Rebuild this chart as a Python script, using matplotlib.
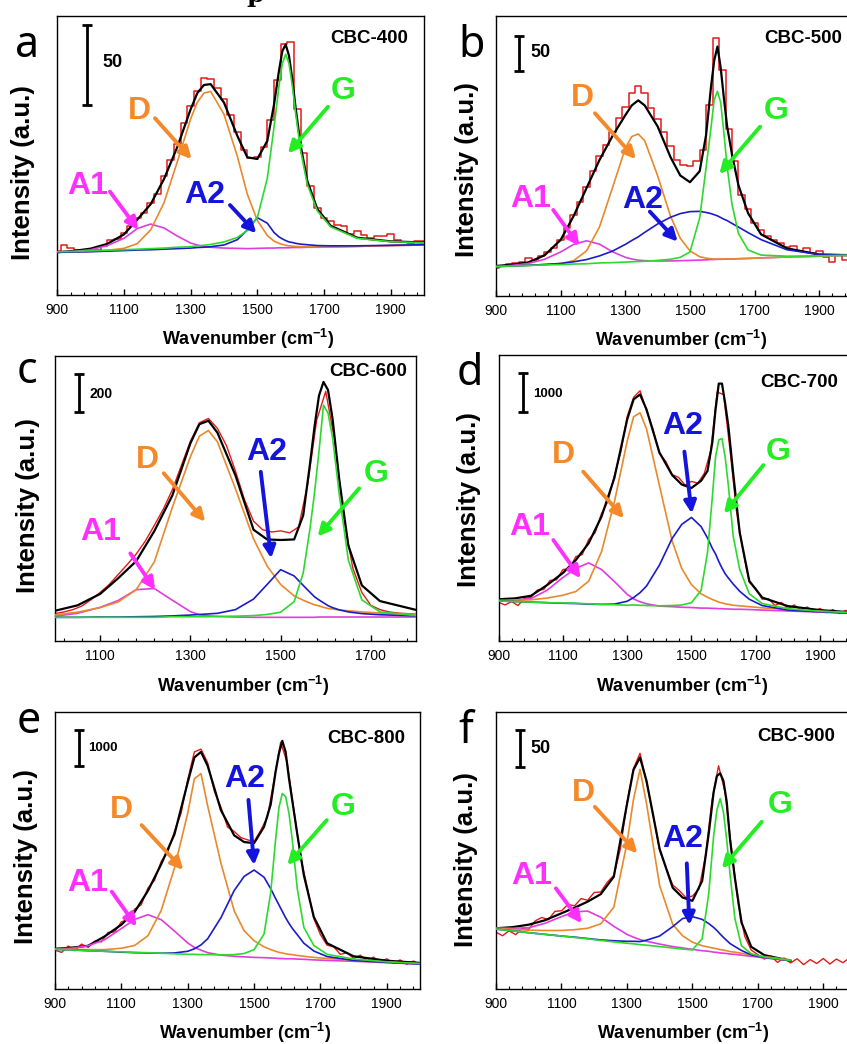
import matplotlib.pyplot as plt
import numpy as np

plt.rcParams['font.family'] = ['Liberation Sans', 'DejaVu Sans']
plt.rcParams['mathtext.fontset'] = 'custom'
plt.rcParams['mathtext.rm'] = 'Liberation Sans'
plt.rcParams['mathtext.bf'] = 'Liberation Sans:bold'

nan = np.nan

# wavenumbers (cm-1) at which the fitted curves were read
wn = [900, 950, 1000, 1050, 1100, 1140, 1180, 1220, 1260, 1300,
      1320, 1340, 1360, 1400, 1440, 1470, 1500, 1530, 1550, 1565,
      1575, 1585, 1595, 1605, 1615, 1630, 1650, 1680, 1720, 1800,
      1900, 2000]
# raw spectra were read every 20 cm-1
raw_wn = list(range(900, 2001, 20))

# intensities in a.u. (0-100 = bottom-top of each panel)
# peaks are heights above the linear baseline

# (a) CBC-400
base_a = [15.3, 15.4, 15.5, 15.7, 15.8, 15.9, 16.0, 16.1, 16.2, 16.2,
          16.3, 16.3, 16.4, 16.5, 16.6, 16.6, 16.7, 16.8, 16.8, 16.9,
          16.9, 16.9, 16.9, 17.0, 17.0, 17.0, 17.1, 17.1, 17.2, 17.4,
          17.7, 17.9]
a1_a = [0.1, 0.2, 0.7, 2.0, 4.5, 7.9, 9.4, 7.9, 4.9, 2.4,
        1.6, 1.0, 0.7, 0.3, 0.1, 0, 0, 0, 0, 0,
        0, 0, 0, 0, 0, 0, 0, 0, 0, 0,
        0, 0]
d_a = [0, 0, 0.1, 0.3, 0.9, 2.5, 7.3, 16.9, 31.5, 46.9,
       52.7, 56.0, 56.5, 48.2, 33.1, 19.5, 10.0, 4.5, 2.5, 1.6,
       1.2, 0.9, 0.7, 0.5, 0.4, 0.3, 0.2, 0.1, 0, 0,
       0, 0]
a2_a = [0, 0, 0, 0, 0.1, 0.2, 0.2, 0.3, 0.4, 0.6,
        0.7, 0.8, 0.9, 1.4, 3.2, 6.7, 11.0, 8.9, 5.6, 3.9,
        3.2, 2.6, 2.1, 1.8, 1.5, 1.2, 0.9, 0.6, 0.4, 0.2,
        0.1, 0.1]
g_a = [0.2, 0.2, 0.3, 0.3, 0.4, 0.5, 0.6, 0.7, 0.9, 1.1,
       1.3, 1.5, 1.7, 2.5, 4.0, 6.5, 11.0, 25.0, 43.2, 57.9,
       66.0, 69.3, 66.0, 57.9, 48.0, 34.7, 22.5, 13.0, 7.2, 2.9,
       1.4, 0.8]
fit_a = [15.3, 15.8, 16.6, 18.3, 21.7, 27.0, 32.5, 41.5, 53.0, 66.5,
         72.3, 75.2, 75.5, 68.9, 57.0, 49.3, 48.7, 55.2, 68.1, 80.3,
         87.3, 89.7, 85.7, 77.2, 66.9, 53.5, 40.8, 30.8, 24.8, 20.5,
         19.2, 18.8]
raw_a = [15.8, 18.0, 16.8, 16.2, 15.6, 15.8, 16.2, 17.6, 19.6, 20.2,
         22.2, 24.8, 27.6, 29.3, 33.0, 36.2, 42.5, 48.2, 54.2, 61.5,
         67.5, 73.2, 77.8, 77.3, 74.0, 70.2, 64.5, 58.2, 52.0, 49.2,
         49.5, 53.0, 62.5, 77.0, 90.0, 90.5, 66.5, 51.0, 39.0, 31.0,
         27.5, 26.5, 25.0, 24.6, 22.0, 23.0, 21.5, 20.5, 21.0, 21.2,
         21.8, 19.6, 19.0, 18.6, 19.5, 19.5]

# (b) CBC-500
base_b = [10.5, 10.7, 10.9, 11.1, 11.2, 11.4, 11.5, 11.7, 11.8, 12.0,
          12.1, 12.1, 12.2, 12.4, 12.5, 12.6, 12.7, 12.8, 12.9, 13.0,
          13.0, 13.1, 13.1, 13.1, 13.2, 13.2, 13.3, 13.4, 13.6, 13.9,
          14.2, 14.6]
a1_b = [0, 0.2, 0.7, 2.0, 4.5, 7.0, 8.2, 6.8, 4.0, 1.8,
        1.1, 0.7, 0.4, 0.1, 0, 0, 0, 0, 0, 0,
        0, 0, 0, 0, 0, 0, 0, 0, 0, 0,
        0, 0]
d_b = [0, 0, 0, 0.1, 0.4, 1.2, 4.6, 12.9, 26.7, 40.7,
       44.8, 45.7, 43.2, 30.5, 15.9, 8.0, 3.4, 1.2, 0.6, 0.3,
       0.2, 0.1, 0.1, 0.1, 0, 0, 0, 0, 0, 0,
       0, 0]
a2_b = [0, 0, 0.05, 0.15, 0.4, 0.8, 1.5, 2.6, 4.2, 6.4,
        7.7, 9.0, 10.5, 13.3, 15.6, 16.8, 17.4, 17.4, 16.9, 16.4,
        16.0, 15.5, 14.9, 14.3, 13.7, 12.7, 11.3, 9.2, 6.5, 2.6,
        0.6, 0.1]
g_b = [0, 0, 0, 0, 0, 0, 0, 0.1, 0.1, 0.1,
       0.1, 0.2, 0.2, 0.3, 0.6, 1.2, 3.0, 15.0, 33.0, 47.0,
       57.0, 59.9, 56.0, 45.0, 33.0, 19.5, 9.0, 3.0, 1.0, 0.3,
       0.1, 0]
fit_b = [10.7, 11.2, 12.0, 14.5, 20.0, 28.5, 38.5, 48.5, 57.0, 64.5,
         68.0, 69.8, 68.0, 60.5, 49.5, 43.0, 40.6, 44.5, 57.5, 74.5,
         84.0, 89.0, 81.5, 70.5, 60.5, 50.5, 39.5, 29.5, 22.0, 17.0,
         14.8, 14.5]
raw_b = [10.0, 10.6, 11.4, 11.6, 12.2, 13.6, 13.0, 14.2, 15.6, 17.2,
         20.0, 24.2, 29.0, 33.5, 39.0, 44.5, 50.0, 54.0, 58.5, 63.5,
         67.5, 72.5, 74.8, 72.5, 67.0, 63.0, 58.5, 53.5, 48.5, 46.8,
         46.5, 48.0, 52.0, 68.0, 92.0, 80.5, 59.5, 48.0, 36.0, 31.0,
         26.0, 23.5, 21.5, 20.0, 19.0, 17.5, 17.8, 16.0, 17.2, 15.5,
         16.0, 14.0, 12.0, 14.8, 13.0, 14.3]

# (c) CBC-600
base_c = [8.1, 8.1, 8.2, 8.2, 8.2, 8.2, 8.2, 8.2, 8.3, 8.3,
          8.3, 8.3, 8.3, 8.3, 8.3, 8.3, 8.3, 8.3, 8.3, 8.3,
          8.3, 8.4, 8.4, 8.4, 8.4, 8.4, 8.4, 8.4, 8.4, 8.4,
          8.4, 8.5]
a1_c = [0.2, 0.3, 0.5, 1.5, 3.6, 6.0, 9.8, 10.2, 6.0, 2.0,
        0.9, 0.5, 0.3, 0.1, 0, 0, 0, 0, 0, 0,
        0, 0, 0, 0, 0, 0, 0, 0, 0, 0,
        0, 0]
d_c = [0.5, 0.7, 1.0, 1.9, 3.5, 5.5, 9.8, 19.5, 38.5, 56.3,
       63.5, 65.5, 61.5, 45.0, 27.5, 18.0, 11.5, 7.5, 6.0, 5.0,
       4.4, 3.9, 3.4, 3.0, 2.8, 2.5, 2.2, 1.8, 1.4, 0.9,
       0.6, 0.4]
a2_c = [0.1, 0.1, 0.1, 0.1, 0.2, 0.2, 0.3, 0.4, 0.5, 0.8,
        1.0, 1.2, 1.4, 2.7, 6.4, 11.5, 16.7, 14.5, 11.2, 8.8,
        7.2, 6.0, 5.0, 4.0, 3.3, 2.5, 1.8, 1.2, 0.8, 0.4,
        0.2, 0.1]
g_c = [0.1, 0.1, 0.1, 0.1, 0.1, 0.1, 0.1, 0.1, 0.2, 0.2,
       0.2, 0.2, 0.3, 0.4, 0.6, 1.0, 1.8, 5.5, 15.5, 31.0,
       43.5, 58.0, 74.3, 71.5, 63.0, 43.0, 20.0, 6.0, 1.8, 0.5,
       0.2, 0.1]
fit_c = [9.8, 10.2, 10.6, 12.5, 16.5, 22.0, 28.0, 38.5, 51.0, 69.3,
         76.0, 77.2, 73.0, 58.0, 39.0, 35.6, 35.4, 35.6, 44.0, 62.0,
         75.0, 86.0, 90.8, 88.0, 78.0, 56.5, 33.5, 19.5, 14.0, 10.9,
         10.5, 10.3]
raw_c = [9.5, 9.6, 9.8, 9.9, 9.8, 9.6, 10.2, 11.0, 12.3, 14.5,
         17.0, 19.8, 23.3, 26.8, 30.5, 35.0, 40.5, 46.2, 53.0, 61.5,
         70.0, 76.5, 78.0, 74.5, 68.5, 59.5, 49.5, 42.0, 39.0, 38.2,
         38.6, 37.9, 40.0, 55.0, 77.5, 87.5, 70.0, 43.0, 25.5, 17.0,
         12.5, 11.0, 10.2, 9.8, 9.6, 9.4, 9.3, 9.2, 9.1, 9.0,
         9.0, 8.9, 8.9, 8.8, 8.8, 8.8]

# (d) CBC-700
base_d = [14.0, 13.8, 13.6, 13.4, 13.2, 13.1, 12.9, 12.7, 12.6, 12.4,
          12.4, 12.3, 12.2, 12.0, 11.9, 11.8, 11.7, 11.5, 11.5, 11.4,
          11.4, 11.3, 11.3, 11.2, 11.2, 11.1, 11.1, 11.0, 10.8, 10.5,
          10.1, 9.7]
a1_d = [0.1, 0.4, 1.2, 4.3, 9.0, 12.3, 14.4, 12.3, 8.2, 3.9,
        2.3, 1.4, 0.8, 0.2, 0.1, 0, 0, 0, 0, 0,
        0, 0, 0, 0, 0, 0, 0, 0, 0, 0,
        0, 0]
d_d = [0.2, 0.4, 0.8, 1.6, 2.8, 4.2, 8.0, 18.5, 36.0, 57.5,
       66.0, 67.5, 62.0, 42.5, 23.0, 13.5, 8.0, 5.0, 3.8, 3.1,
       2.7, 2.3, 2.0, 1.8, 1.6, 1.4, 1.2, 1.0, 0.8, 0.5,
       0.3, 0.2]
a2_d = [0, 0, 0, 0, 0, 0, 0, 0.1, 0.3, 1.5,
        2.8, 4.6, 7.0, 14.5, 24.0, 29.0, 31.5, 28.5, 24.5, 21.0,
        19.0, 16.5, 14.2, 12.3, 10.8, 8.8, 6.3, 3.6, 1.6, 0.3,
        0.1, 0]
g_d = [0, 0, 0, 0, 0.1, 0.1, 0.1, 0.1, 0.1, 0.1,
       0.2, 0.2, 0.2, 0.3, 0.5, 0.8, 1.7, 6.2, 19.5, 39.0,
       53.0, 59.0, 59.5, 53.0, 43.0, 25.5, 14.0, 5.5, 2.3, 0.8,
       0.3, 0.2]
fit_d = [14.6, 14.9, 15.8, 19.5, 23.8, 28.3, 34.2, 43.5, 57.0, 77.5,
         84.5, 86.2, 81.0, 66.0, 58.0, 54.7, 53.5, 56.0, 59.5, 69.5,
         81.0, 90.0, 90.0, 83.0, 75.0, 58.5, 38.0, 21.0, 15.2, 12.2,
         10.8, 10.0]
raw_d = [13.5, 12.6, 13.8, 12.4, 14.9, 15.2, 17.8, 18.0, 21.2, 21.4,
         25.0, 25.2, 29.5, 30.2, 35.5, 37.8, 44.6, 48.8, 57.8, 66.0,
         78.5, 85.2, 87.5, 80.5, 74.2, 65.5, 62.8, 58.2, 57.2, 54.5,
         55.8, 55.2, 58.6, 66.5, 87.0, 86.2, 66.8, 45.5, 31.8, 20.5,
         18.4, 14.6, 14.8, 12.4, 13.5, 11.3, 12.6, 10.8, 11.9, 10.2,
         11.4, 9.9, 11.0, 9.6, 10.7, 9.5]

# (e) CBC-800
base_e = [14.3, 14.1, 13.8, 13.6, 13.3, 13.1, 13.0, 12.8, 12.6, 12.4,
          12.3, 12.2, 12.1, 11.9, 11.7, 11.6, 11.4, 11.3, 11.2, 11.1,
          11.0, 11.0, 10.9, 10.9, 10.9, 10.8, 10.7, 10.5, 10.3, 10.0,
          9.5, 9.0]
a1_e = [0.2, 0.6, 1.8, 4.2, 8.5, 12.0, 13.8, 12.2, 8.3, 4.2,
        2.7, 1.8, 1.0, 0.3, 0.1, 0, 0, 0, 0, 0,
        0, 0, 0, 0, 0, 0, 0, 0, 0, 0,
        0, 0]
d_e = [0.1, 0.2, 0.4, 0.6, 1.4, 2.6, 6.2, 15.5, 31.0, 51.0,
       63.5, 65.5, 54.0, 33.5, 16.5, 9.4, 6.0, 3.9, 3.0, 2.5,
       2.2, 2.0, 1.8, 1.6, 1.5, 1.3, 1.1, 0.9, 0.7, 0.4,
       0.2, 0.1]
a2_e = [0, 0, 0, 0, 0, 0, 0, 0.1, 0.4, 1.2,
        2.2, 3.7, 6.0, 13.8, 23.8, 29.0, 31.5, 29.0, 25.0, 21.5,
        19.3, 17.0, 14.8, 12.8, 11.0, 8.8, 5.8, 3.2, 1.4, 0.3,
        0.1, 0]
g_e = [0, 0, 0, 0, 0.1, 0.1, 0.1, 0.1, 0.1, 0.1,
       0.2, 0.2, 0.3, 0.4, 0.7, 1.2, 2.8, 8.5, 23.5, 43.0,
       54.5, 59.5, 58.5, 52.5, 43.0, 25.5, 11.5, 5.2, 2.2, 0.8,
       0.3, 0.2]
fit_e = [14.5, 14.9, 15.6, 19.0, 23.2, 27.8, 35.4, 45.0, 55.8, 74.5,
         83.5, 85.5, 80.5, 64.5, 55.4, 53.0, 52.6, 58.5, 66.5, 78.5,
         85.0, 89.5, 85.5, 76.0, 68.0, 56.0, 41.0, 26.0, 16.5, 11.8,
         10.2, 9.4]
raw_e = [14.0, 13.2, 15.5, 13.8, 16.2, 15.0, 17.3, 17.0, 20.4, 20.6,
         24.2, 25.0, 28.8, 30.4, 36.4, 39.2, 46.0, 49.4, 56.8, 63.4,
         75.5, 85.5, 86.5, 81.6, 71.4, 65.6, 58.4, 56.8, 54.6, 53.8,
         53.2, 57.2, 62.0, 75.2, 89.0, 81.5, 64.4, 47.6, 36.8, 25.4,
         19.6, 15.8, 15.2, 12.5, 13.1, 11.0, 12.2, 10.2, 11.5, 9.6,
         10.9, 9.2, 10.5, 8.9, 10.1, 8.8]

# (f) CBC-900 (fit only covers 900-1800)
base_f = [21.6, 21.0, 20.3, 19.7, 19.1, 18.6, 18.1, 17.5, 17.0, 16.5,
          16.3, 16.0, 15.8, 15.3, 14.8, 14.4, 14.0, 13.6, 13.4, 13.2,
          13.1, 12.9, 12.8, 12.7, 12.5, 12.4, 12.1, 11.7, 11.2, 10.2,
          nan, nan]
a1_f = [0.4, 0.9, 1.8, 4.0, 7.0, 9.2, 10.0, 8.4, 5.6, 3.2,
        2.4, 1.8, 1.4, 0.9, 0.5, 0.4, 0.3, 0.2, 0.2, 0.1,
        0.1, 0.1, 0.1, 0.1, 0.1, 0.1, 0.1, 0.1, 0, 0,
        nan, nan]
d_f = [0.2, 0.5, 0.9, 1.4, 2.0, 2.8, 3.8, 6.0, 12.5, 36.0,
       52.0, 63.2, 51.0, 22.0, 8.5, 4.8, 2.9, 2.0, 1.7, 1.5,
       1.4, 1.3, 1.2, 1.1, 1.0, 0.9, 0.8, 0.6, 0.5, 0.3,
       nan, nan]
a2_f = [0, 0, 0, 0, 0, 0.1, 0.1, 0.2, 0.4, 0.7,
        0.9, 1.1, 1.8, 3.8, 7.7, 11.0, 12.1, 11.5, 10.2, 9.0,
        8.0, 6.9, 5.8, 4.8, 3.9, 2.9, 1.8, 0.6, 0.2, 0,
        nan, nan]
g_f = [0, 0, 0, 0, 0, 0, 0, 0, 0, 0,
       0, 0, 0, 0, 0, 0, 0.1, 4.5, 21.0, 42.0,
       51.5, 55.8, 51.0, 41.0, 29.0, 13.0, 3.5, 1.0, 0.3, 0.1,
       nan, nan]
fit_f = [21.9, 22.3, 23.2, 24.8, 27.3, 29.3, 31.5, 34.2, 40.5, 66.5,
         79.0, 83.5, 75.0, 50.5, 36.5, 33.0, 31.8, 39.0, 56.0, 71.0,
         76.8, 77.8, 75.0, 67.5, 54.0, 40.0, 24.0, 15.2, 12.2, 10.2,
         nan, nan]
raw_f = [20.5, 19.2, 21.0, 19.6, 21.8, 21.5, 24.6, 25.8, 25.0, 28.0,
         28.2, 30.5, 30.0, 32.6, 32.0, 34.8, 35.0, 38.5, 41.0, 50.5,
         67.0, 79.5, 85.0, 74.5, 62.8, 50.0, 43.5, 37.5, 35.5, 33.0,
         33.5, 36.0, 47.8, 68.0, 80.5, 71.0, 50.0, 31.0, 19.0, 14.0,
         12.4, 10.8, 11.9, 9.6, 11.2, 9.4, 10.9, 8.8, 10.6, 9.2,
         11.0, 9.0, 10.8, 9.5, 11.2, 10.0]

peak_names = ['A1', 'D', 'A2', 'G']
line_colors = ['#e03ce0', '#e8892c', '#1c1cc8', '#2ed82e']
text_colors = ['#ff30ff', '#f5892a', '#1414dc', '#22ee22']

panels = [
    dict(letter='a', name='CBC-400', raw=raw_a, fit=fit_a, base=base_a,
         peaks=[a1_a, d_a, a2_a, g_a], bar='50'),
    dict(letter='b', name='CBC-500', raw=raw_b, fit=fit_b, base=base_b,
         peaks=[a1_b, d_b, a2_b, g_b], bar='50'),
    dict(letter='c', name='CBC-600', raw=raw_c, fit=fit_c, base=base_c,
         peaks=[a1_c, d_c, a2_c, g_c], bar='200'),
    dict(letter='d', name='CBC-700', raw=raw_d, fit=fit_d, base=base_d,
         peaks=[a1_d, d_d, a2_d, g_d], bar='1000'),
    dict(letter='e', name='CBC-800', raw=raw_e, fit=fit_e, base=base_e,
         peaks=[a1_e, d_e, a2_e, g_e], bar='1000'),
    dict(letter='f', name='CBC-900', raw=raw_f, fit=fit_f, base=base_f,
         peaks=[a1_f, d_f, a2_f, g_f], bar='50'),
]

# placement of every panel (pixel boxes, label / arrow anchors in data units)
layout = [
    dict(box=(57.3, 15.7, 366.7, 279.3), xlim=(900, 2000), letter_xy=(15, 57),
         ylab=(-0.093, 0.437), name_xy=(0.956, 0.92),
         bar=(990, 82.35, 28.7), bar_fs=13, bar_text=(1034, 83.1),
         labels=[(992, 39.0), (1145, 65.9), (1343, 35.8), (1759, 73.0)],
         arrows=[((1058, 37.0), (1143, 23.3)), ((1193, 63.3), (1303, 48.6)),
                 ((1418, 32.2), (1497, 22.1)), ((1712, 67.4), (1592, 50.7))],
         steps=True),
    dict(box=(496, 15.7, 355.6, 280.3), xlim=(900, 2000), letter_xy=(458, 57),
         ylab=(-0.082, 0.45), name_xy=(0.972, 0.919),
         bar=(971, 86.45, 12.3), bar_fs=13, bar_text=(1005, 86.7),
         labels=[(1008, 34.6), (1168, 70.8), (1353, 34.2), (1768, 66.1)],
         arrows=[((1077, 30.7), (1158, 17.8)), ((1206, 65.2), (1333, 48.8)),
                 ((1376, 30.1), (1462, 19.4)), ((1717, 60.4), (1591, 43.5))],
         steps=True),
    dict(box=(55, 355.7, 361, 285.3), xlim=(1000, 1800), letter_xy=(17, 383),
         ylab=(-0.076, 0.473), name_xy=(0.976, 0.944),
         bar=(1053, 86.95, 13.3), bar_fs=10, bar_text=(1076, 86.6),
         labels=[(1102, 38.3), (1204, 63.4), (1468, 66.1), (1711, 58.5)],
         arrows=[((1167, 30.7), (1222, 17.9)), ((1241, 58.8), (1333, 41.8)),
                 ((1456, 59.3), (1479, 29.0)), ((1674, 53.5), (1582, 36.6))],
         steps=False),
    dict(box=(498.7, 355, 353.4, 286), xlim=(900, 2000), letter_xy=(457, 385),
         ylab=(-0.084, 0.493), name_xy=(0.961, 0.903),
         bar=(976, 86.9, 13.6), bar_fs=9.5, bar_text=(1007, 86.4),
         labels=[(997, 39.7), (1102, 65.0), (1472, 75.2), (1770, 66.2)],
         arrows=[((1070, 35.3), (1155, 21.9)), ((1163, 59.2), (1290, 42.9)),
                 ((1478, 66.2), (1501, 44.6)), ((1724, 61.5), (1601, 44.6))],
         steps=False),
    dict(box=(55, 711.7, 365, 277.3), xlim=(900, 2000), letter_xy=(17, 733),
         ylab=(-0.079, 0.476), name_xy=(0.959, 0.904),
         bar=(972, 86.9, 13.0), bar_fs=9.5, bar_text=(999, 86.9),
         labels=[(998, 38.4), (1101, 64.6), (1473, 75.7), (1769, 65.7)],
         arrows=[((1071, 35.1), (1146, 22.5)), ((1161, 59.1), (1287, 42.9)),
                 ((1483, 68.2), (1500, 44.7)), ((1719, 60.9), (1600, 44.7))],
         steps=False),
    dict(box=(496, 711.7, 360, 277.3), xlim=(900, 2000), letter_xy=(458, 743),
         ylab=(-0.083, 0.465), name_xy=(0.942, 0.912),
         bar=(973, 86.75, 13.3), bar_fs=13, bar_text=(1004, 86.9),
         labels=[(1009, 40.8), (1167, 70.6), (1471, 54.1), (1768, 66.4)],
         arrows=[((1083, 36.3), (1162, 23.7)), ((1202, 65.7), (1332, 48.9)),
                 ((1483, 45.3), (1491, 23.1)), ((1712, 60.3), (1590, 43.5))],
         steps=False),
]

W, H = 847, 1044
fig = plt.figure(figsize=(W / 100, H / 100), dpi=100)

major_ticks = [900, 1100, 1300, 1500, 1700, 1900]
minor_ticks = list(range(900, 2001, 40))

for p, lay in zip(panels, layout):
    l, t, w, h = lay['box']
    ax = fig.add_axes([l / W, 1 - (t + h) / H, w / W, h / H])

    base = np.array(p['base'])
    # raw data, fit envelope and the four fitted bands
    if lay['steps']:
        ax.plot(raw_wn, p['raw'], color='#e41a1a', lw=1.1, drawstyle='steps-mid', zorder=2)
    else:
        ax.plot(raw_wn, p['raw'], color='#e41a1a', lw=1.0, zorder=2)
    ax.plot(wn, p['fit'], color='black', lw=1.6, zorder=3)
    for peak, c in zip(p['peaks'], line_colors):
        ax.plot(wn, base + np.array(peak), color=c, lw=1.2, zorder=4)

    # peak labels with arrows
    for name, (tx, ty), (start, tip), tc in zip(peak_names, lay['labels'],
                                                lay['arrows'], text_colors):
        ax.text(tx, ty, name, color=tc, fontsize=23, fontweight='bold',
                ha='center', va='center', zorder=6)
        ax.annotate('', xy=tip, xytext=start, zorder=6,
                    arrowprops=dict(arrowstyle='-|>', color=tc, lw=2.8,
                                    mutation_scale=18, shrinkA=0, shrinkB=0))

    # intensity scale bar
    bx, by, blen = lay['bar']
    ax.errorbar([bx], [by], yerr=[blen / 2], fmt='none', ecolor='black',
                elinewidth=2, capsize=3.7, capthick=2, zorder=6)
    ax.text(lay['bar_text'][0], lay['bar_text'][1], p['bar'], fontsize=lay['bar_fs'],
            fontweight='bold', ha='left', va='center')

    ax.text(lay['name_xy'][0], lay['name_xy'][1], p['name'], transform=ax.transAxes,
            ha='right', va='center', fontsize=13.5, fontweight='bold')

    ax.set_xlim(*lay['xlim'])
    ax.set_ylim(0, 100)
    ax.set_xticks([v for v in major_ticks if lay['xlim'][0] <= v <= lay['xlim'][1]])
    ax.set_xticks([v for v in minor_ticks if lay['xlim'][0] <= v <= lay['xlim'][1]], minor=True)
    ax.set_yticks([])
    ax.tick_params(axis='x', which='major', direction='in', length=4.5, width=1,
                   labelsize=10, pad=6)
    ax.tick_params(axis='x', which='minor', direction='in', length=2.5, width=0.8)
    for s in ax.spines.values():
        s.set_linewidth(1.0)

    ax.set_xlabel(r'Wavenumber (cm$^{\mathbf{-1}}$)', fontsize=13, fontweight='bold')
    ax.xaxis.set_label_coords(0.52, -0.115)
    ax.set_ylabel('Intensity (a.u.)', fontsize=18.5, fontweight='bold', va='center')
    ax.yaxis.set_label_coords(*lay['ylab'])

    fig.text(lay['letter_xy'][0] / W, 1 - lay['letter_xy'][1] / H, p['letter'],
             fontsize=31, family='Noto Sans', ha='left', va='baseline')

# clipped title character at the very top
fig.text(255 / W, 1 - 2 / H, 'p', fontsize=18, fontweight='bold',
         family='DejaVu Serif', ha='center', va='baseline')

fig.savefig('out.png', dpi=100)
